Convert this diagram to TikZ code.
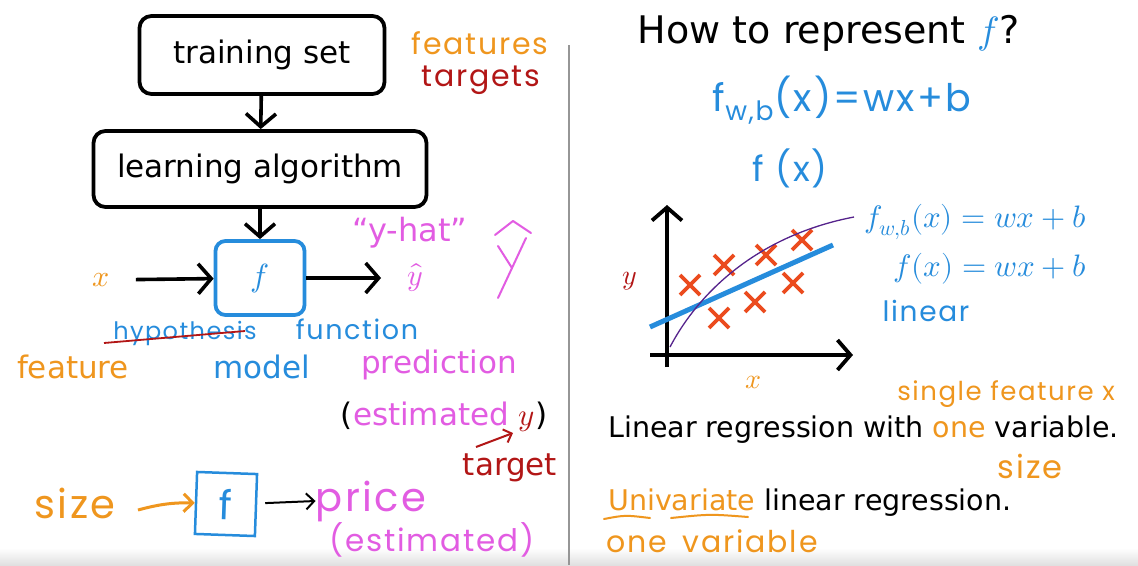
\documentclass[tikz,border=0pt]{standalone}
\usepackage{fontspec}
\usepackage{unicode-math}
\setmainfont{DejaVu Sans}
\newfontfamily\hand{Poppins}[LetterSpace=6]
\usetikzlibrary{arrows.meta}
\definecolor{cOr}{RGB}{239,150,30}
\definecolor{cRed}{RGB}{178,22,22}
\definecolor{cMag}{RGB}{226,92,226}
\definecolor{cBlue}{RGB}{38,140,220}
\definecolor{cPur}{RGB}{85,35,140}
\definecolor{cCross}{RGB}{235,75,30}
\definecolor{cSep}{RGB}{150,150,150}
\newcommand{\fsz}[1]{\fontsize{#1}{#1}\selectfont}
\begin{document}
\begin{tikzpicture}[x=1pt,y=-1pt,
  blockbox/.style={draw=black,line width=3.8pt,rounded corners=12pt,inner sep=0pt,font=\fsz{31}},
  arr/.style={line width=3.6pt,-{Straight Barb[length=13pt,width=30pt]}},
  typed/.style={inner sep=0pt,font=\fsz{31}},
  typedr/.style={inner sep=0pt,font=\fsz{28.5}},
  handw/.style={inner sep=0pt,font=\hand\fsz{30}},
  crossmark/.style={cCross,line width=3.8pt}
]
\useasboundingbox (0,0) rectangle (1138,565);
\fill[white] (0,0) rectangle (1138,565);
\shade[top color=white,bottom color=black!12] (0,548) rectangle (1138,565);
\draw[cSep,line width=2.5pt] (569,45) -- (569,565);

% ---------- left: pipeline ----------
\node[blockbox,minimum width=245,minimum height=78] (ts) at (262,55) {training set};
\node[blockbox,minimum width=333,minimum height=76] (la) at (260,169) {learning algorithm};
\node[draw=cBlue,line width=3.8pt,rounded corners=10pt,minimum width=89,minimum height=74,inner sep=0pt,text=cBlue,font=\fsz{32}] (fb) at (260,278) {$f$};
\draw[arr] (ts) -- (la);
\draw[arr] (la) -- (fb);

\node[text=cOr,inner sep=0pt,font=\fsz{30}] (xin) at (101,280) {$x$};
\node[text=cMag,inner sep=0pt,font=\fsz{30}] (yh) at (415,278) {$\hat{y}$};
\draw[arr,shorten <=26pt] (xin) -- (fb);
\draw[arr,shorten >=26pt] (fb) -- (yh);

\node[handw,text=cOr] (feats) at (480,43) {features};
\node[handw,text=cRed] (targs) at (481,80) {targets};
\node[typed,text=cMag,font=\fsz{32}] (yhat) at (410,233) {“y-hat”};
% hand-drawn y-hat
\draw[cMag,line width=2pt,line cap=round,line join=round] (495,235) -- (513,221) -- (531,233);
\draw[cMag,line width=2pt,line cap=round] (526,238) -- (498,298) (498,246) -- (512,268);

\node[handw,text=cBlue,font=\hand\fsz{24}] (hyp) at (185,333) {hypothesis};
\draw[cRed,line width=1.8pt] (104,343) -- (245,331);
\node[handw,text=cBlue,font=\hand\fsz{27}] (func) at (357,329) {function};
\node[typed,text=cOr] (feat) at (73,367) {feature};
\node[typed,text=cBlue] (model) at (262,367) {model};
\node[typed,text=cMag] (pred) at (439,365) {prediction};
\node[typed] (est) at (444,417) {(\textcolor{cMag}{estimated} \textcolor{cRed}{$y$})};
\node[typed,text=cRed] (targ) at (510,468) {target};
\coordinate (ytip) at (513,433);
\draw[cRed,line width=2pt,-{Straight Barb[length=7pt,width=14pt]}] (476,447) -- (ytip);

% bottom example
\node[handw,text=cOr,font=\hand\fsz{40}] (size) at (75,503) {size};
\node[draw=cBlue,line width=2.5pt,minimum width=60,minimum height=62,inner sep=0pt,text=cBlue,font=\hand\fsz{40},rotate=-2] (sf) at (226,504) {f};
\draw[cOr,line width=3pt,-{Straight Barb[length=9pt,width=18pt]}] (138,510) to[bend left=8] (sf.west);
\node[handw,text=cMag,font=\hand\fsz{40}] (price) at (371,501) {price};
\draw[black,line width=2pt,-{Straight Barb[length=8pt,width=16pt]}] (sf.east)++(8,-2) -- (price.west);
\node[handw,text=cMag,font=\hand\fsz{31}] (pest) at (432,540) {(estimated)};

% ---------- right side ----------
\node[inner sep=0pt,font=\fsz{38}] (title) at (829,33) {How to represent \textcolor{cBlue}{$f$}?};
\node[handw,text=cBlue,font=\hand\fsz{38}] (fwb) at (842,100) {f\textsubscript{w,b}(x)=wx+b};
\node[handw,text=cBlue,font=\hand\fsz{35}] (fx) at (790,168) {f (x)};

% plot
\draw[line width=3.8pt,-{Straight Barb[length=13pt,width=30pt]}] (667,367) -- (667,205);
\draw[line width=3.8pt,-{Straight Barb[length=13pt,width=30pt]}] (650,355) -- (853,355);
\node[text=cRed,inner sep=0pt,font=\fsz{28}] (ylab) at (630,281) {$y$};
\node[text=cOr,inner sep=0pt,font=\fsz{28}] (xlab) at (753,382) {$x$};
\foreach \cx/\cy in {690/285,724/265,766/255,802/240,719/318,755/302,793/283}
  \draw[crossmark] (\cx-10,\cy-10) -- (\cx+10,\cy+10) (\cx-10,\cy+10) -- (\cx+10,\cy-10);
\draw[cBlue,line width=5pt] (650,327) -- (833,245);
\draw[cPur,line width=1.3pt] (670,347) .. controls (700,290) and (760,235) .. (854,217);

\node[text=cBlue,inner sep=0pt,font=\fsz{31}] (eq1) at (975,222) {$f_{w,b}(x) = wx + b$};
\node[text=cBlue,inner sep=0pt,font=\fsz{31}] (eq2) at (990,269) {$f(x) = wx + b$};
\node[handw,text=cBlue,font=\hand\fsz{28}] (lin) at (926,311) {linear};

\node[handw,text=cOr,font=\hand\fsz{26}] (single) at (1006,394) {single feature x};
\node[typedr,anchor=west] (lr1) at (608,430) {Linear regression with \textcolor{cOr}{one} variable.};
\node[handw,text=cOr,font=\hand\fsz{32}] (size2) at (1030,466) {size};
\node[typedr,anchor=west] (lr2) at (608,503) {\textcolor{cOr}{Univariate} linear regression.};
\draw[cOr,line width=2pt,line cap=round] (604,519) .. controls (625,515) .. (650,518);
\draw[cOr,line width=2pt,line cap=round] (671,518) .. controls (710,514) .. (748,517);
\node[handw,text=cOr,font=\hand\fsz{30},anchor=west] (onev) at (606,541) {one\hspace{16pt}variable};
\end{tikzpicture}
\end{document}
